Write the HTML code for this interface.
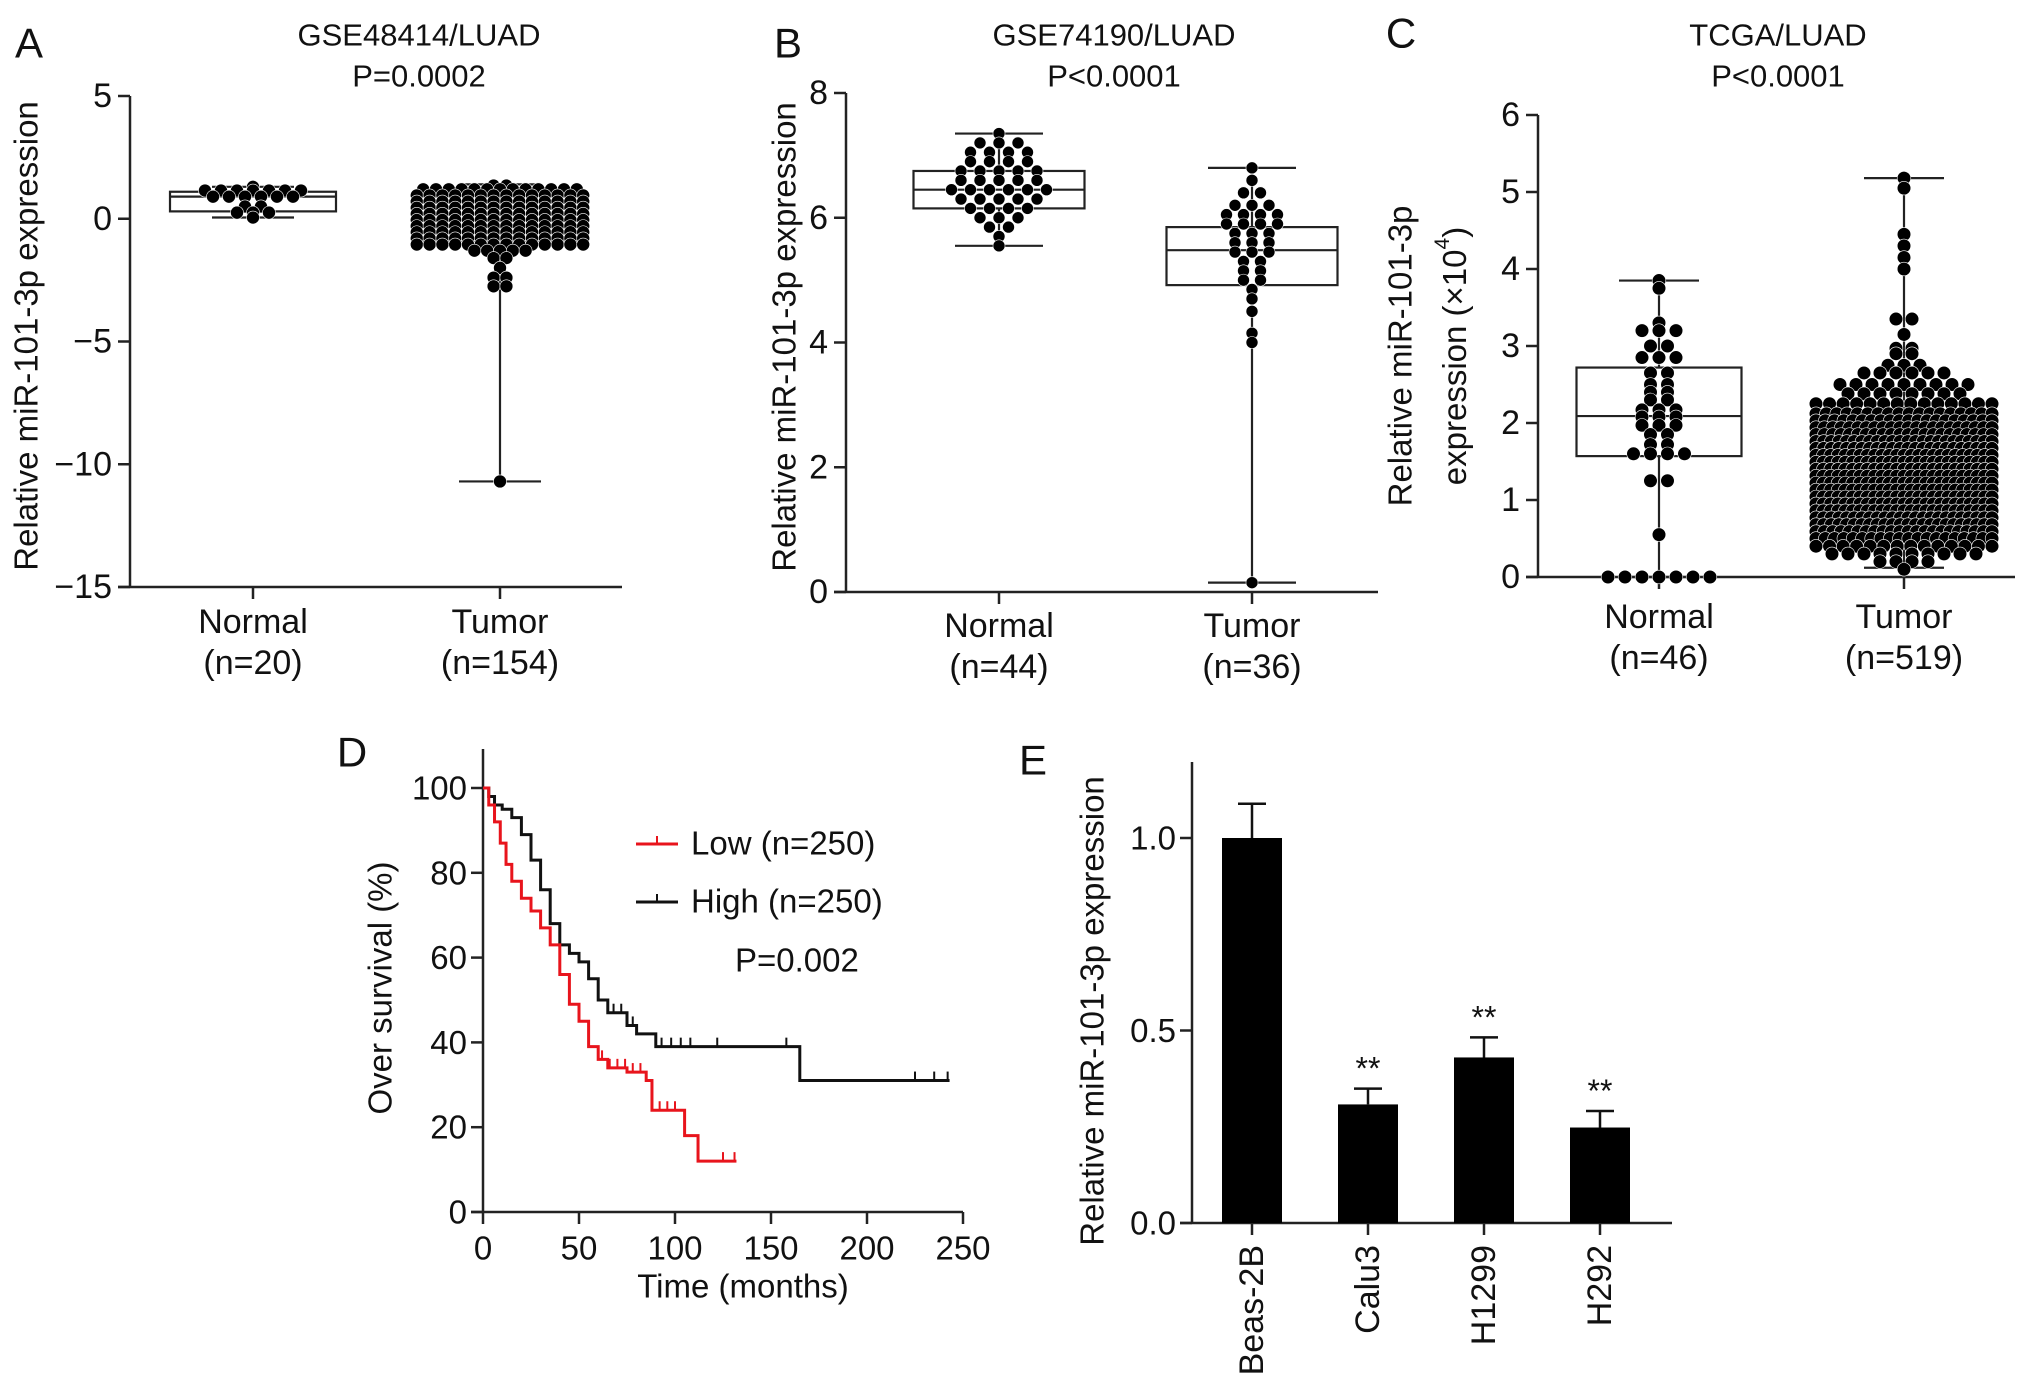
<!DOCTYPE html>
<html><head><meta charset="utf-8">
<style>
html,body{margin:0;padding:0;background:#fff;}
svg{display:block;font-family:"Liberation Sans",Arial,sans-serif;}
</style></head>
<body>
<svg id="fig" width="2032" height="1388" viewBox="0 0 2032 1388">
<rect x="0" y="0" width="2032" height="1388" fill="#fff"/>
</svg>
<script>
// ---------- Panel A data ----------
const aCats = ["Normal", "Tumor"];
const aNs = ["(n=20)", "(n=154)"];
const aTicks = [5, 0, -5, -10, -15];
const aTickLabels = ["5", "0", "\u22125", "\u221210", "\u221215"];
const aQ1 = [0.3, -0.9];
const aMed = [0.9, 0.0];
const aQ3 = [1.1, 0.4];
const aWlo = [0.05, -10.7];
const aWhi = [1.3, 1.4];
const aNormVals = [1.3, 1.15, 0.9, 0.5, 0.25, 0.05];
const aNormCounts = [1, 7, 6, 2, 3, 1];
const aTumVals = [1.35, 1.2, 0.95, 0.7, 0.45, 0.2, -0.05, -0.3, -0.55, -0.8, -1.05, -1.3, -1.6, -2.0, -2.4, -2.75, -10.7];
const aTumCounts = [2, 13, 14, 14, 14, 14, 14, 14, 14, 14, 14, 5, 2, 1, 2, 2, 1];
// ---------- Panel B data ----------
const bCats = ["Normal", "Tumor"];
const bNs = ["(n=44)", "(n=36)"];
const bTicks = [0, 2, 4, 6, 8];
const bTickLabels = ["0", "2", "4", "6", "8"];
const bQ1 = [6.15, 4.92];
const bMed = [6.45, 5.48];
const bQ3 = [6.75, 5.85];
const bWlo = [5.55, 0.15];
const bWhi = [7.35, 6.8];
const bNormVals = [7.35, 7.2, 7.05, 6.9, 6.75, 6.6, 6.45, 6.3, 6.15, 6.0, 5.85, 5.7, 5.55];
const bNormCounts = [1, 3, 4, 4, 5, 5, 6, 5, 4, 3, 2, 1, 1];
const bTumVals = [6.8, 6.6, 6.4, 6.2, 6.05, 5.9, 5.75, 5.6, 5.45, 5.3, 5.15, 5.0, 4.85, 4.7, 4.5, 4.15, 4.0, 0.15];
const bTumCounts = [1, 1, 2, 3, 4, 4, 3, 3, 3, 2, 2, 2, 1, 1, 1, 1, 1, 1];
// ---------- Panel C data ----------
const cCats = ["Normal", "Tumor"];
const cNs = ["(n=46)", "(n=519)"];
const cTicks = [0, 1, 2, 3, 4, 5, 6];
const cTickLabels = ["0", "1", "2", "3", "4", "5", "6"];
const cQ1 = [1.57, 0.69];
const cMed = [2.09, 1.05];
const cQ3 = [2.72, 1.47];
const cWlo = [0.0, 0.12];
const cWhi = [3.85, 5.18];
const cNormVals = [3.85, 3.75, 3.3, 3.2, 3.0, 2.85, 2.65, 2.5, 2.4, 2.3, 2.17, 2.08, 1.97, 1.85, 1.72, 1.6, 1.25, 0.55, 0.0];
const cNormCounts = [1, 1, 1, 3, 2, 3, 2, 2, 2, 2, 3, 3, 3, 2, 2, 4, 2, 1, 7];
const cTumVals = [5.18, 5.05, 4.45, 4.3, 4.15, 4.0, 3.35, 3.15, 2.97, 2.9, 2.75, 2.65, 2.5, 2.38, 2.25,
  2.12, 2.03, 1.94, 1.85, 1.76, 1.67, 1.58, 1.49, 1.40, 1.31, 1.22, 1.13, 1.04, 0.95, 0.86, 0.77, 0.68, 0.59, 0.50,
  0.4, 0.3, 0.2, 0.1];
const cTumCounts = [1, 1, 1, 1, 1, 1, 2, 1, 2, 2, 3, 6, 9, 8, 14,
  18, 20, 22, 22, 24, 24, 25, 25, 25, 25, 25, 25, 25, 25, 25, 24, 24, 22, 20,
  14, 10, 4, 1];
// ---------- Panel D data ----------
const dXTicks = [0, 50, 100, 150, 200, 250];
const dYTicks = [0, 20, 40, 60, 80, 100];
const dLowT = [0, 3, 6, 9, 12, 15, 20, 25, 30, 35, 40, 45, 50, 55, 60, 65, 75, 85, 88, 105, 112, 132];
const dLowS = [100, 96, 92, 87, 82, 78, 74, 71, 67, 63, 56, 49, 45, 39, 36, 34, 33, 31, 24, 18, 12, 12];
const dLowCens = [62, 66, 70, 74, 78, 82, 92, 96, 100, 125, 131];
const dHighT = [0, 3, 6, 10, 15, 20, 25, 30, 35, 40, 45, 50, 55, 60, 65, 75, 80, 90, 165, 243];
const dHighS = [100, 98, 96, 95, 93, 89, 83, 76, 68, 63, 61, 59, 55, 50, 47, 44, 42, 39, 31, 31];
const dHighCens = [68, 72, 78, 93, 98, 103, 108, 122, 158, 225, 235, 242];
// ---------- Panel E data ----------
const eCats = ["Beas-2B", "Calu3", "H1299", "H292"];
const eVals = [1.0, 0.308, 0.43, 0.248];
const eErr = [0.089, 0.041, 0.052, 0.043];
const eSig = ["", "**", "**", "**"];
const eTicks = [0, 0.5, 1.0];
const eTickLabels = ["0.0", "0.5", "1.0"];

const NS = "http://www.w3.org/2000/svg";
const svg = document.getElementById("fig");
function el(tag, attrs, parent) {
  const e = document.createElementNS(NS, tag);
  for (const k in attrs) e.setAttribute(k, attrs[k]);
  (parent || svg).appendChild(e);
  return e;
}
function txt(s, x, y, size, anchor, parent, extra) {
  const t = el("text", Object.assign({x: x, y: y, "font-size": size, "text-anchor": anchor || "middle", "dominant-baseline": "central", fill: "#111"}, extra || {}), parent);
  t.textContent = s;
  return t;
}
function lin(d0, d1, r0, r1) { return v => r0 + (v - d0) * (r1 - r0) / (d1 - d0); }

function panelLetter(s, x, y, name) {
  const t = txt(s, x, y, 42, "middle");
  
  
}

function boxPanel(cfg) {
  const g = el("g", {});
  
  
  const y = lin(cfg.d0, cfg.d1, cfg.y0, cfg.y1);
  const t1 = txt(cfg.title, cfg.titleX, 35, 31, "middle", g);
  
  
  const t2 = txt(cfg.pval, cfg.titleX, 76, 31, "middle", g);
  
  
  const yTop = y(cfg.axTop), yBot = y(cfg.axBot);
  const ya = el("line", {x1: cfg.ax, y1: yTop, x2: cfg.ax, y2: yBot, stroke: "#222", "stroke-width": 2.5}, g);
  
  
  const xa = el("line", {x1: cfg.ax - 12, y1: yBot, x2: cfg.xEnd, y2: yBot, stroke: "#222", "stroke-width": 2.5}, g);
  
  
  cfg.ticks.forEach((v, i) => {
    el("line", {x1: cfg.ax - 12, y1: y(v), x2: cfg.ax, y2: y(v), stroke: "#222", "stroke-width": 2.5}, g);
    const tl = txt(cfg.tickLabels[i], cfg.ax - 18, y(v), 34, "end", g);
    
    
  });
  cfg.ylab(g);
  cfg.cats.forEach((c, i) => {
    const cx = cfg.cx[i];
    el("line", {x1: cx, y1: yBot, x2: cx, y2: yBot + 12, stroke: "#222", "stroke-width": 2.5}, g);
    const cl = txt(c, cx, cfg.catY, 34, "middle", g);
    
    
    const nl = txt(cfg.ns[i], cx, cfg.catY + 41, 34, "middle", g);
    
    
    const bw = cfg.bw;
    const box = el("rect", {x: cx - bw / 2, y: y(cfg.q3[i]), width: bw, height: y(cfg.q1[i]) - y(cfg.q3[i]), fill: "none", stroke: "#222", "stroke-width": 2.2}, g);
    
    
    el("line", {x1: cx - bw / 2, y1: y(cfg.med[i]), x2: cx + bw / 2, y2: y(cfg.med[i]), stroke: "#222", "stroke-width": 2.2}, g);
    el("line", {x1: cx, y1: y(cfg.whi[i]), x2: cx, y2: y(cfg.q3[i]), stroke: "#222", "stroke-width": 2.2}, g);
    el("line", {x1: cx, y1: y(cfg.q1[i]), x2: cx, y2: y(cfg.wlo[i]), stroke: "#222", "stroke-width": 2.2}, g);
    el("line", {x1: cx - cfg.cap / 2, y1: y(cfg.whi[i]), x2: cx + cfg.cap / 2, y2: y(cfg.whi[i]), stroke: "#222", "stroke-width": 2.2}, g);
    el("line", {x1: cx - cfg.cap / 2, y1: y(cfg.wlo[i]), x2: cx + cfg.cap / 2, y2: y(cfg.wlo[i]), stroke: "#222", "stroke-width": 2.2}, g);
    const vals = cfg.dotVals[i], cnts = cfg.dotCounts[i];
    const sp0 = cfg.sp[i];
    vals.forEach((v, k) => {
      const n = cnts[k];
      const sp = n > 1 ? Math.min(sp0, cfg.maxW / (n - 1)) : 0;
      for (let j = 0; j < n; j++) {
        const dx = (j - (n - 1) / 2) * sp;
        const d = el("circle", {cx: cx + dx, cy: y(v), r: cfg.r, fill: "#000", stroke: "#fff", "stroke-width": 0.6}, g);
        
        
      }
    });
  });
}

function rotLabel(lines, x, cy, size, g, name) {
  const t = el("text", {x: 0, y: 0, "font-size": size, "text-anchor": "middle", "dominant-baseline": "central", fill: "#111", transform: "translate(" + x + "," + cy + ") rotate(-90)"}, g);
  t.textContent = lines;
  
  
  return t;
}

// Panel A
panelLetter("A", 29, 43, "panel-label-a");
boxPanel({name: "panel-a-boxplot", title: "GSE48414/LUAD", pval: "P=0.0002", titleX: 419,
  d0: 5, d1: -15, y0: 96, y1: 587, axTop: 5, axBot: -15, ax: 130, xEnd: 622,
  ticks: aTicks, tickLabels: aTickLabels, cats: aCats, ns: aNs, cx: [253, 500], catY: 622,
  q1: aQ1, med: aMed, q3: aQ3, wlo: aWlo, whi: aWhi, bw: 166, cap: 82, r: 6.5, sp: [16, 12.8], maxW: 170,
  dotVals: [aNormVals, aTumVals], dotCounts: [aNormCounts, aTumCounts],
  ylab: g => rotLabel("Relative miR-101-3p expression", 26, 336, 33, g, "y-axis-title")});

// Panel B
panelLetter("B", 788, 43, "panel-label-b");
boxPanel({name: "panel-b-boxplot", title: "GSE74190/LUAD", pval: "P<0.0001", titleX: 1114,
  d0: 0, d1: 8, y0: 592, y1: 93, axTop: 8, axBot: 0, ax: 846, xEnd: 1378,
  ticks: bTicks, tickLabels: bTickLabels, cats: bCats, ns: bNs, cx: [999, 1252], catY: 626,
  q1: bQ1, med: bMed, q3: bQ3, wlo: bWlo, whi: bWhi, bw: 171, cap: 88, r: 6, sp: [19, 17], maxW: 150,
  dotVals: [bNormVals, bTumVals], dotCounts: [bNormCounts, bTumCounts],
  ylab: g => rotLabel("Relative miR-101-3p expression", 784, 337, 33, g, "y-axis-title")});

// Panel C
panelLetter("C", 1401, 33, "panel-label-c");
boxPanel({name: "panel-c-boxplot", title: "TCGA/LUAD", pval: "P<0.0001", titleX: 1778,
  d0: 0, d1: 6, y0: 577, y1: 115, axTop: 6, axBot: 0, ax: 1538, xEnd: 2015,
  ticks: cTicks, tickLabels: cTickLabels, cats: cCats, ns: cNs, cx: [1659, 1904], catY: 617,
  q1: cQ1, med: cMed, q3: cQ3, wlo: cWlo, whi: cWhi, bw: 165, cap: 80, r: 6.8, sp: [17, 16], maxW: 176,
  dotVals: [cNormVals, cTumVals], dotCounts: [cNormCounts, cTumCounts],
  ylab: g => {
    rotLabel("Relative miR-101-3p", 1400, 356, 33, g, "y-axis-title-line1");
    const t = el("text", {x: 0, y: 0, "font-size": 33, "text-anchor": "middle", "dominant-baseline": "central", fill: "#111", transform: "translate(1454,356) rotate(-90)"}, g);
    
    
    const s1 = el("tspan", {}, t); s1.textContent = "expression (\u00d710";
    const s2 = el("tspan", {"baseline-shift": "super", "font-size": 21}, t); s2.textContent = "4";
    const s3 = el("tspan", {}, t); s3.textContent = ")";
  }});

// Panel D: survival
(function () {
  panelLetter("D", 352, 752, "panel-label-d");
  const g = el("g", {});
  
  
  const x = lin(0, 250, 483, 963), y = lin(0, 100, 1212, 788);
  const ya = el("line", {x1: x(0), y1: 749, x2: x(0), y2: y(0), stroke: "#222", "stroke-width": 2.5}, g);
  
  
  const xa = el("line", {x1: x(0) - 12, y1: y(0), x2: x(250), y2: y(0), stroke: "#222", "stroke-width": 2.5}, g);
  
  
  dYTicks.forEach(v => {
    el("line", {x1: x(0) - 12, y1: y(v), x2: x(0), y2: y(v), stroke: "#222", "stroke-width": 2.5}, g);
    const t = txt(String(v), x(0) - 16, y(v), 33, "end", g);
    
    
  });
  dXTicks.forEach(v => {
    el("line", {x1: x(v), y1: y(0), x2: x(v), y2: y(0) + 12, stroke: "#222", "stroke-width": 2.5}, g);
    const t = txt(String(v), x(v), 1248, 33, "middle", g);
    
    
  });
  const xt = txt("Time (months)", 743, 1286, 33, "middle", g);
  
  
  rotLabel("Over survival (%)", 380, 988, 33, g, "y-axis-title");
  function stepPath(T, S) {
    let d = "M" + x(T[0]) + "," + y(S[0]);
    for (let i = 1; i < T.length; i++) d += " H" + x(T[i]) + " V" + y(S[i]);
    return d;
  }
  function survAt(T, S, t) { let s = S[0]; for (let i = 0; i < T.length; i++) if (T[i] <= t) s = S[i]; return s; }
  const hp = el("path", {d: stepPath(dHighT, dHighS), fill: "none", stroke: "#111", "stroke-width": 3}, g);
  
  
  dHighCens.forEach(t => {
    const c = el("line", {x1: x(t), y1: y(survAt(dHighT, dHighS, t)), x2: x(t), y2: y(survAt(dHighT, dHighS, t)) - 9, stroke: "#111", "stroke-width": 2}, g);
    
    
  });
  const lp = el("path", {d: stepPath(dLowT, dLowS), fill: "none", stroke: "#e8141c", "stroke-width": 3}, g);
  
  
  dLowCens.forEach(t => {
    const c = el("line", {x1: x(t), y1: y(survAt(dLowT, dLowS, t)), x2: x(t), y2: y(survAt(dLowT, dLowS, t)) - 9, stroke: "#e8141c", "stroke-width": 2}, g);
    
    
  });
  const l1 = el("g", {}, g);
  
  
  el("line", {x1: 636, y1: 844, x2: 678, y2: 844, stroke: "#e8141c", "stroke-width": 3}, l1);
  el("line", {x1: 657, y1: 844, x2: 657, y2: 836, stroke: "#e8141c", "stroke-width": 2}, l1);
  txt("Low (n=250)", 691, 843, 33, "start", l1);
  const l2 = el("g", {}, g);
  
  
  el("line", {x1: 636, y1: 902, x2: 678, y2: 902, stroke: "#111", "stroke-width": 3}, l2);
  el("line", {x1: 657, y1: 902, x2: 657, y2: 894, stroke: "#111", "stroke-width": 2}, l2);
  txt("High (n=250)", 691, 901, 33, "start", l2);
  const p = txt("P=0.002", 735, 960, 33, "start", g);
  
  
})();

// Panel E: bar chart
(function () {
  panelLetter("E", 1033, 760, "panel-label-e");
  const g = el("g", {});
  
  
  const y = lin(0, 1, 1223, 838);
  const x = i => 1252 + i * 116;
  const ax = 1192;
  const ya = el("line", {x1: ax, y1: 762, x2: ax, y2: y(0), stroke: "#222", "stroke-width": 2.5}, g);
  
  
  const xa = el("line", {x1: ax - 12, y1: y(0), x2: 1672, y2: y(0), stroke: "#222", "stroke-width": 2.5}, g);
  
  
  eTicks.forEach((v, i) => {
    el("line", {x1: ax - 12, y1: y(v), x2: ax, y2: y(v), stroke: "#222", "stroke-width": 2.5}, g);
    const t = txt(eTickLabels[i], ax - 16, y(v), 33, "end", g);
    
    
  });
  rotLabel("Relative miR-101-3p expression", 1092, 1011, 33, g, "y-axis-title");
  eCats.forEach((c, i) => {
    const cx = x(i), w = 60;
    const b = el("rect", {x: cx - w / 2, y: y(eVals[i]), width: w, height: y(0) - y(eVals[i]), fill: "#000"}, g);
    
    
    const top = y(eVals[i] + eErr[i]);
    const eb = el("path", {d: "M" + cx + "," + y(eVals[i]) + " V" + top + " M" + (cx - 14) + "," + top + " H" + (cx + 14), stroke: "#111", "stroke-width": 2.5, fill: "none"}, g);
    
    
    if (eSig[i]) {
      const s = txt(eSig[i], cx, top - 20, 32, "middle", g);
      
      
    }
    el("line", {x1: cx, y1: y(0), x2: cx, y2: y(0) + 12, stroke: "#222", "stroke-width": 2.5}, g);
    const t = el("text", {x: 0, y: 0, "font-size": 34, "text-anchor": "end", "dominant-baseline": "central", fill: "#111", transform: "translate(" + cx + "," + (y(0) + 22) + ") rotate(-90)"}, g);
    t.textContent = c;
    
    
  });
})();
</script>
</body></html>
